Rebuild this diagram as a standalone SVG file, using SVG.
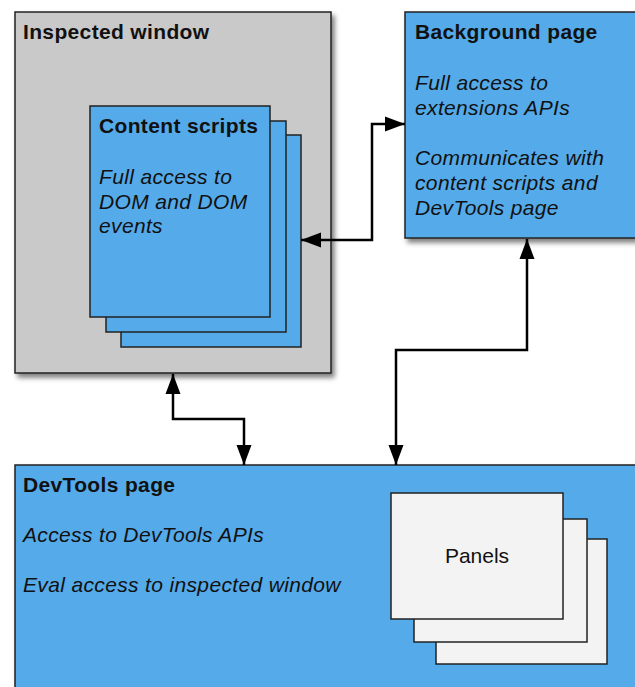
<svg xmlns="http://www.w3.org/2000/svg" width="635" height="687" viewBox="0 0 635 687">
<style>
text{font-family:"Liberation Sans",Arial,sans-serif;font-size:21px;fill:#111;letter-spacing:0.35px}
.b{font-weight:bold}
.i{font-style:italic}
.box{stroke:#222;stroke-width:1.5}
.blue{fill:#55aae9}
.gray{fill:#c9c9c9}
.white{fill:#f3f3f3}
.conn{fill:none;stroke:#000;stroke-width:2.5;marker-start:url(#ah);marker-end:url(#ah)}
</style>
<defs>
<filter id="sh" x="-10%" y="-10%" width="130%" height="130%">
<feDropShadow dx="3" dy="4" stdDeviation="2.5" flood-color="#000" flood-opacity="0.5"/>
</filter>
<marker id="ah" markerUnits="userSpaceOnUse" markerWidth="22" markerHeight="16" refX="20" refY="8" orient="auto-start-reverse">
<path d="M0,0.5 L20,8 L0,15.5 Z" fill="#000"/>
</marker>
</defs>
<rect width="635" height="687" fill="#fff"/>
<g id="inspected-window">
<rect class="box gray" x="15" y="12" width="316" height="361" filter="url(#sh)"/>
<text class="b" x="23" y="39">Inspected window</text>
</g>
<g id="content-scripts">
<rect class="box blue" x="121" y="135" width="180" height="212"/>
<rect class="box blue" x="106" y="121" width="180" height="211"/>
<rect class="box blue" x="90" y="106" width="180" height="211"/>
<text class="b" x="99" y="133">Content scripts</text>
<text class="i" x="99" y="184">Full access to</text>
<text class="i" x="99" y="209">DOM and DOM</text>
<text class="i" x="99" y="233">events</text>
</g>
<g id="background-page">
<rect class="box blue" x="405" y="12" width="240" height="226" filter="url(#sh)"/>
<text class="b" x="415" y="39">Background page</text>
<text class="i" x="415" y="90">Full access to</text>
<text class="i" x="415" y="115">extensions APIs</text>
<text class="i" x="415" y="165">Communicates with</text>
<text class="i" x="415" y="190">content scripts and</text>
<text class="i" x="415" y="215">DevTools page</text>
</g>
<g id="devtools-page">
<rect class="box blue" x="15" y="465" width="640" height="240" filter="url(#sh)"/>
<text class="b" x="23" y="492">DevTools page</text>
<text class="i" x="23" y="542">Access to DevTools APIs</text>
<text class="i" x="23" y="592">Eval access to inspected window</text>
</g>
<g id="panels">
<rect class="box white" x="436" y="539" width="171" height="125"/>
<rect class="box white" x="414" y="519" width="173" height="123"/>
<rect class="box white" x="391" y="493" width="172" height="126"/>
<text x="477" y="563" text-anchor="middle" style="letter-spacing:0">Panels</text>
</g>
<g id="connectors">
<path class="conn" d="M301,240 H372 V124 H405"/>
<path class="conn" d="M527,239 V350 H396 V465"/>
<path class="conn" d="M173,374 V419 H244 V465"/>
</g>
</svg>
